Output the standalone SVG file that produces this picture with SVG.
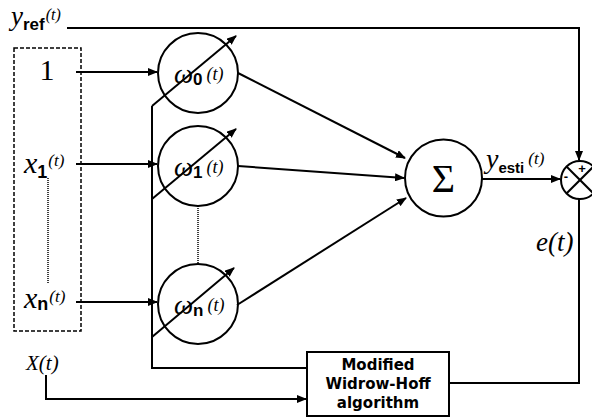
<svg xmlns="http://www.w3.org/2000/svg" width="592" height="418" viewBox="0 0 592 418">
<defs>
<marker id="ah" markerWidth="10" markerHeight="8" refX="9" refY="4" orient="auto" markerUnits="userSpaceOnUse">
<path d="M0,0 L10,4 L0,8 Z" fill="#000"/>
</marker>
<style>
.ln{stroke:#000;stroke-width:2;fill:none}
.nd{stroke:#000;stroke-width:2;fill:#fff}
.ser{font-family:"Liberation Serif",serif;font-style:italic;fill:#000}
.sans{font-family:"Liberation Sans",Arial,sans-serif;font-weight:bold;fill:#000}
.box{font-family:"DejaVu Sans",Verdana,sans-serif;font-weight:bold;font-size:15px;fill:#000;text-anchor:middle}
</style>
</defs>
<rect width="592" height="418" fill="#fff"/>

<g id="inputs">
<rect x="14" y="48" width="67" height="283" fill="none" stroke="#000" stroke-width="1.5" stroke-dasharray="4,2"/>
<line x1="48" y1="178" x2="48" y2="283" stroke="#000" stroke-width="1.5" stroke-dasharray="1,1"/>
<text x="47" y="80" font-family="Liberation Serif,serif" font-size="30" text-anchor="middle">1</text>
<text x="24" y="173"><tspan class="ser" font-size="30">x</tspan><tspan class="sans" font-size="18" dy="5">1</tspan><tspan class="ser" font-size="17" dx="1" dy="-12">(t)</tspan></text>
<text x="24" y="308"><tspan class="ser" font-size="30">x</tspan><tspan class="sans" font-size="18" dy="2">n</tspan><tspan class="ser" font-size="17" dx="1" dy="-8">(t)</tspan></text>
</g>

<g id="yref">
<text x="11" y="25"><tspan class="ser" font-size="27">y</tspan><tspan class="sans" font-size="17" font-weight="normal" dy="5">ref</tspan><tspan class="ser" font-size="16" dx="1" dy="-10">(t)</tspan></text>
</g>

<g id="Xt">
<text x="26" y="370" class="ser" font-size="21">X(t)</text>
</g>

<g id="w0">
<circle class="nd" cx="198" cy="73" r="40"/>
<text x="174" y="83"><tspan class="ser" font-size="27">ω</tspan><tspan class="sans" font-size="17" dy="2">0</tspan><tspan class="ser" font-size="18" dx="4" dy="-5">(t)</tspan></text>
</g>
<g id="w1">
<circle class="nd" cx="198" cy="166" r="40"/>
<text x="174" y="176"><tspan class="ser" font-size="27">ω</tspan><tspan class="sans" font-size="17" dy="2">1</tspan><tspan class="ser" font-size="18" dx="4" dy="-5">(t)</tspan></text>
</g>
<g id="wn">
<circle class="nd" cx="198" cy="304" r="40"/>
<text x="174" y="314"><tspan class="ser" font-size="27">ω</tspan><tspan class="sans" font-size="17" dy="2">n</tspan><tspan class="ser" font-size="18" dx="4" dy="-5">(t)</tspan></text>
</g>

<g id="sum">
<circle class="nd" cx="443.5" cy="178" r="38.5"/>
<text x="443.5" y="192" font-family="Liberation Serif,serif" font-size="40" text-anchor="middle">Σ</text>
</g>

<g id="junction">
<circle class="nd" cx="580" cy="180" r="19"/>
<line class="ln" x1="566.5" y1="166.5" x2="593.5" y2="193.5"/>
<line class="ln" x1="566.5" y1="193.5" x2="593.5" y2="166.5"/>
<text x="582" y="173" class="sans" font-size="13" text-anchor="middle">+</text>
<text x="566" y="181" class="sans" font-size="13" text-anchor="middle">-</text>
</g>

<g id="widrow">
<rect x="307" y="352" width="142" height="64" fill="#fff" stroke="#000" stroke-width="2"/>
<text x="378" y="370" class="box">Modified</text>
<text x="378" y="389" class="box">Widrow-Hoff</text>
<text x="378" y="408" class="box">algorithm</text>
</g>

<g id="labels">
<text x="486" y="168"><tspan class="ser" font-size="28">y</tspan><tspan class="sans" font-size="15" dy="5">esti</tspan><tspan class="ser" font-size="17" dx="4" dy="-9">(t)</tspan></text>
<text x="536" y="251" class="ser" font-size="27">e(t)</text>
</g>

<g id="connectors">
<line class="ln" x1="76" y1="72" x2="157" y2="72" marker-end="url(#ah)"/>
<line class="ln" x1="76" y1="164" x2="157" y2="164" marker-end="url(#ah)"/>
<line class="ln" x1="76" y1="302" x2="157" y2="302" marker-end="url(#ah)"/>
<line x1="198" y1="206" x2="198" y2="264" stroke="#000" stroke-width="1.5" stroke-dasharray="1,1"/>
<polyline class="ln" points="152,106 152,368 307,368"/>
<line class="ln" x1="152" y1="106" x2="236" y2="36" marker-end="url(#ah)"/>
<line class="ln" x1="152" y1="199" x2="236" y2="129" marker-end="url(#ah)"/>
<line class="ln" x1="152" y1="337" x2="234" y2="268" marker-end="url(#ah)"/>
<line class="ln" x1="238" y1="73" x2="405" y2="158" marker-end="url(#ah)"/>
<line class="ln" x1="238" y1="166" x2="404" y2="178" marker-end="url(#ah)"/>
<line class="ln" x1="237" y1="305" x2="406" y2="198" marker-end="url(#ah)"/>
<line class="ln" x1="482" y1="179" x2="560" y2="179" marker-end="url(#ah)"/>
<polyline class="ln" points="67,28 579,28 579,160" marker-end="url(#ah)"/>
<polyline class="ln" points="579,199 579,383 449,383"/>
<polyline class="ln" points="46,375 46,399 306,399" marker-end="url(#ah)"/>
</g>
</svg>
